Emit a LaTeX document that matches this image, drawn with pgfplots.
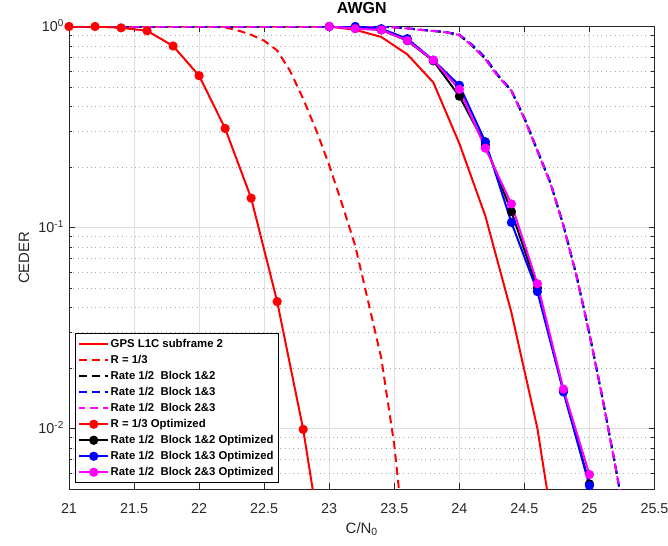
\documentclass[border=0pt]{standalone}
\usepackage{fontspec}
\setmainfont{Liberation Sans}
\usepackage{pgfplots}
\pgfplotsset{compat=1.18}
\definecolor{axgray}{RGB}{38,38,38}
\definecolor{gridmaj}{RGB}{223,223,223}
\definecolor{gridmin}{RGB}{170,170,170}
\definecolor{mred}{RGB}{255,0,0}
\definecolor{mblue}{RGB}{0,0,255}
\definecolor{mmag}{RGB}{255,0,255}
\begin{document}
\begin{tikzpicture}
\begin{axis}[name=ax, scale only axis, width=585.5bp, height=462.5bp,
  xmin=21, xmax=25.5, ymode=log, ymin=0.005, ymax=1,
  xtick={21,21.5,22,22.5,23,23.5,24,24.5,25,25.5},
  xticklabels={21,21.5,22,22.5,23,23.5,24,24.5,25,25.5},
  ytick={0.01,0.1,1},
  yticklabels={10\textsuperscript{-2},10\textsuperscript{-1},10\textsuperscript{0}},
  minor ytick={0.005,0.006,0.007,0.008,0.009,0.02,0.03,0.04,0.05,0.06,0.07,0.08,0.09,0.2,0.3,0.4,0.5,0.6,0.7,0.8,0.9},
  /pgf/number format/assume math mode=true,
  tick label style={font=\fontsize{14.4}{17}\selectfont, text=axgray},
  xticklabel style={inner sep=0pt, anchor=north, yshift=-14.3bp},
  yticklabel style={inner sep=0pt, anchor=base east, xshift=-5bp, yshift=-5bp},
  title={AWGN},
  title style={at={(axis description cs:0.5,1.0162)}, anchor=base, inner sep=0pt, font=\bfseries\fontsize{16}{19}\selectfont},
  xlabel={C/N\textsubscript{0}},
  xlabel style={at={(axis description cs:0.5,-0.0958)}, anchor=base, inner sep=0pt, font=\fontsize{15}{18}\selectfont, text=axgray},
  ylabel={CEDER},
  ylabel style={at={(axis description cs:-0.0683,0.5)}, anchor=base, inner sep=0pt, font=\fontsize{15}{18}\selectfont, text=axgray},
  xmajorgrids, ymajorgrids, yminorgrids,
  major grid style={gridmaj, line width=0.5bp},
  minor grid style={gridmin, line width=0.5bp, dash pattern=on 0.8bp off 3.6bp},
  axis line style={axgray, line width=0.6bp},
  tick style={axgray, line width=0.6bp},
  major tick length=6bp, minor tick length=3.5bp,
  legend cell align=left,
  legend style={at={(axis description cs:0.0102,0.013)}, anchor=south west,
    draw=black, line width=0.5bp, fill=white, inner xsep=3bp, inner ysep=2.5bp,
    row sep=0pt,
    font=\bfseries\fontsize{11.4}{13}\selectfont,
    nodes={inner xsep=1.5bp, inner ysep=2.5bp, text height=8.5bp, text depth=2.5bp}},
  legend image code/.code={\draw[mark repeat=2,mark phase=2] plot coordinates {(0bp,0bp)(14.5bp,0bp)(29bp,0bp)};},
  every axis plot/.append style={line width=2bp, line join=round},
]
% GPS L1C subframe 2
\addplot[mred] coordinates {(21,1)(22,1)(23,1)(23.2,0.963)(23.4,0.887)(23.6,0.727)(23.8,0.527)(24.0,0.262)(24.2,0.114)(24.4,0.0378)(24.6,0.0100)(24.8,0.0015)};
\addlegendentry{GPS L1C subframe 2}
% R = 1/3
\addplot[mred, dash pattern=on 8bp off 5bp] coordinates {(21,1)(21.5,1)(22,1)(22.1,0.998)(22.2,0.99)(22.3,0.955)(22.4,0.91)(22.5,0.85)(22.6,0.76)(22.7,0.60)(22.8,0.436)(22.9,0.305)(23.0,0.204)(23.1,0.130)(23.2,0.081)(23.3,0.0427)(23.4,0.0224)(23.5,0.0083)(23.6,0.002)};
\addlegendentry{R = 1/3}
% Rate 1/2 Block 1&2
\addplot[black, dash pattern=on 8bp off 5bp] coordinates {(21,1)(23,1)(23.4,0.997)(23.5,0.99)(23.6,0.978)(23.7,0.962)(23.8,0.95)(23.9,0.935)(24.0,0.905)(24.1,0.80)(24.2,0.69)(24.3,0.565)(24.4,0.478)(24.5,0.348)(24.6,0.24)(24.7,0.166)(24.8,0.102)(24.9,0.0575)(25.0,0.0295)(25.1,0.0141)(25.2,0.00646)(25.3,0.0028)};
\addlegendentry{Rate 1/2\ \ Block 1\&2}
% Rate 1/2 Block 1&3
\addplot[mblue, dash pattern=on 8bp off 5bp] coordinates {(21,1)(23,1)(23.4,0.998)(23.5,0.992)(23.6,0.98)(23.7,0.965)(23.8,0.952)(23.9,0.938)(24.0,0.912)(24.1,0.81)(24.2,0.70)(24.3,0.57)(24.4,0.482)(24.5,0.352)(24.6,0.243)(24.7,0.168)(24.8,0.103)(24.9,0.058)(25.0,0.0298)(25.1,0.0143)(25.2,0.0065)(25.3,0.0028)};
\addlegendentry{Rate 1/2\ \ Block 1\&3}
% Rate 1/2 Block 2&3
\addplot[mmag, dash pattern=on 8bp off 5bp, dash phase=2.5bp] coordinates {(21,1)(23,1)(23.4,0.997)(23.5,0.99)(23.6,0.978)(23.7,0.962)(23.8,0.95)(23.9,0.935)(24.0,0.908)(24.1,0.80)(24.2,0.687)(24.3,0.562)(24.4,0.479)(24.5,0.347)(24.6,0.24)(24.7,0.166)(24.8,0.102)(24.9,0.0575)(25.0,0.0295)(25.1,0.0141)(25.2,0.00646)(25.3,0.0028)};
\addlegendentry{Rate 1/2\ \ Block 2\&3}
% R = 1/3 Optimized
\addplot[mred, mark=*, mark size=3.6bp, mark options={solid}, mark indices={1,2,3,4,5,6,7,8,9,10}, legend image post style={mark indices={2}}] coordinates {(21,1)(21.2,1)(21.4,0.985)(21.6,0.952)(21.8,0.80)(22.0,0.569)(22.2,0.311)(22.4,0.140)(22.6,0.0428)(22.8,0.0099)(23.0,0.0015)};
\addlegendentry{R = 1/3 Optimized}
% Rate 1/2 Block 1&2 Optimized
\addplot[black, mark=*, mark size=3.6bp, mark options={solid}] coordinates {(23,1)(23.2,0.98)(23.4,0.962)(23.6,0.85)(23.8,0.675)(24.0,0.45)(24.2,0.258)(24.4,0.12)(24.6,0.05)(24.8,0.0155)(25.0,0.0053)};
\addlegendentry{Rate 1/2\ \ Block 1\&2 Optimized}
% Rate 1/2 Block 1&3 Optimized
\addplot[mblue, mark=*, mark size=3.6bp, mark options={solid}] coordinates {(23,1)(23.2,1.0)(23.4,0.975)(23.6,0.87)(23.8,0.68)(24.0,0.51)(24.2,0.267)(24.4,0.106)(24.6,0.048)(24.8,0.0152)(25.0,0.0052)};
\addlegendentry{Rate 1/2\ \ Block 1\&3 Optimized}
% Rate 1/2 Block 2&3 Optimized
\addplot[mmag, mark=*, mark size=3.6bp, mark options={solid}] coordinates {(23,1)(23.2,0.975)(23.4,0.962)(23.6,0.852)(23.8,0.68)(24.0,0.487)(24.2,0.248)(24.4,0.131)(24.6,0.0525)(24.8,0.0157)(25.0,0.0059)};
\addlegendentry{Rate 1/2\ \ Block 2\&3 Optimized}
\end{axis}
\pgfresetboundingbox
\path[use as bounding box] ([shift={(-69bp,-57bp)}]ax.south west) rectangle ([shift={(13.5bp,26.5bp)}]ax.north east);
\end{tikzpicture}
\end{document}
